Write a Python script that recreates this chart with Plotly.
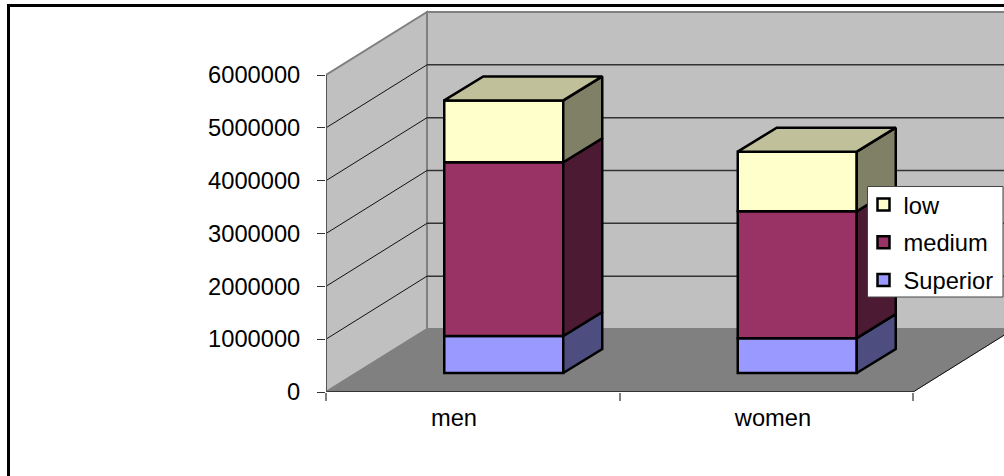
import plotly.graph_objects as go

categories = ["men", "women"]
category_label_positions = [0.436, 1.523]
series_names = ["Superior", "medium", "low"]
superior = [700000, 660000]
medium = [3290000, 2400000]
low = [1170000, 1130000]
series_values = [superior, medium, low]
legend_ranks = [3, 2, 1]
front_colors = ["#9999FF", "#993366", "#FFFFCC"]
side_colors = ["#4D4D80", "#4D1A33", "#808066"]
top_color = "#C0C09A"
y_ticks = [0, 1000000, 2000000, 3000000, 4000000, 5000000, 6000000]

W, H = 1004, 476
X0, Y0 = 326, 392          # pixel of axis origin
CAT_PX = 293.5
UNIT_PX = 317 / 6000000
DX = 101 / CAT_PX          # full depth in x units
DY = 63 / UNIT_PX          # full depth in y units
BAR_W = 119 / CAT_PX
BAR_SHIFT_X = 31 / CAT_PX
BAR_SHIFT_Y = 19 / UNIT_PX
BAR_DX = 39 / CAT_PX
BAR_DY = 24 / UNIT_PX

xmax = (W - X0) / CAT_PX
ytop = (Y0 - 8) / UNIT_PX
FS = 23.7


def poly(pts, fill, line="#808080", width=1):
    d = "M" + "L".join(f"{x},{y}" for x, y in pts) + "Z"
    return dict(type="path", path=d, xref="x", yref="y", fillcolor=fill, layer="below",
                line=dict(color=line, width=width))


def seg(x0, y0, x1, y1, color="#000000", width=1):
    return dict(type="line", x0=x0, y0=y0, x1=x1, y1=y1, xref="x", yref="y", layer="below",
                line=dict(color=color, width=width))


top = 6000000
shapes = [
    poly([(DX, DY), (2 + DX, DY), (2 + DX, top + DY), (DX, top + DY)], "#C0C0C0", "#808080", 2),
    poly([(0, 0), (DX, DY), (DX, top + DY), (0, top)], "#C0C0C0", "#808080", 2),
    poly([(0, 0), (2, 0), (2 + DX, DY), (DX, DY)], "#808080", "#808080", 1),
]
for v in y_ticks[1:-1]:
    shapes.append(seg(0, v, DX, v + DY, "#111111", 1))
    shapes.append(seg(DX, v + DY, 2 + DX, v + DY, "#333333", 1.5))
shapes.append(seg(0, 0, 2, 0, "#333333", 2))
shapes.append(seg(0, 0, 0, top, "#555555", 2))
shapes.append(seg(2, 0, 2 + DX, DY, "#111111", 1))

fig = go.Figure()
for name, vals, col, rank in zip(series_names, series_values, front_colors, legend_ranks):
    bases = []
    for i in range(len(categories)):
        below = sum(s[i] for s in series_values[:series_names.index(name)])
        bases.append(below + BAR_SHIFT_Y)
    fig.add_trace(go.Bar(
        name=name, legendgroup=name, legendrank=rank,
        x=[i + 0.5 + BAR_SHIFT_X for i in range(len(categories))],
        y=vals, base=bases, width=BAR_W,
        marker=dict(color=col, line=dict(color="#000000", width=2.5)),
    ))


def face(pts, fill):
    xs = [p[0] for p in pts] + [pts[0][0]]
    ys = [p[1] for p in pts] + [pts[0][1]]
    fig.add_trace(go.Scatter(x=xs, y=ys, mode="lines", fill="toself", fillcolor=fill,
                             line=dict(color="#000000", width=2.5), showlegend=False,
                             hoverinfo="skip"))


for i in range(len(categories)):
    xr = i + 0.5 + BAR_SHIFT_X + BAR_W / 2
    xl = xr - BAR_W
    cum = BAR_SHIFT_Y
    for s, col in zip(series_values, side_colors):
        y0, y1 = cum, cum + s[i]
        face([(xr, y0), (xr + BAR_DX, y0 + BAR_DY), (xr + BAR_DX, y1 + BAR_DY), (xr, y1)], col)
        cum = y1
    face([(xl, cum), (xr, cum), (xr + BAR_DX, cum + BAR_DY), (xl + BAR_DX, cum + BAR_DY)], top_color)

fig.update_layout(
    width=W, height=H,
    margin=dict(l=0, r=0, t=0, b=0),
    paper_bgcolor="#FFFFFF", plot_bgcolor="rgba(0,0,0,0)",
    barmode="overlay",
    showlegend=True,
    font=dict(family="Liberation Sans, Arial, sans-serif", size=FS, color="#000000"),
    shapes=shapes + [
        dict(type="rect", xref="paper", yref="paper", x0=8.5 / W, x1=1.02, y0=-0.02, y1=1 - 5.5 / H,
             line=dict(color="#000000", width=3), fillcolor="rgba(0,0,0,0)", layer="below"),
        dict(type="rect", xref="paper", yref="paper", x0=867.5 / W, x1=1003 / W,
             y0=1 - 297 / H, y1=1 - 186.5 / H,
             line=dict(color="#444444", width=1), fillcolor="#FFFFFF", layer="above"),
    ],
    xaxis=dict(domain=[X0 / W, 1], range=[0, xmax], tickmode="array", tickvals=[0, 1, 2],
               ticktext=["", "", ""], ticks="outside", ticklen=8, tickcolor="#808080", tickwidth=2,
               showgrid=False, zeroline=False, showline=False, automargin=False),
    xaxis2=dict(domain=[X0 / W, 1], range=[0, xmax], overlaying="x", anchor="y", side="bottom",
                tickmode="array", tickvals=category_label_positions, ticktext=categories, ticks="",
                ticklen=0, showgrid=False, zeroline=False, showline=False, ticklabelstandoff=9,
                automargin=False),
    yaxis=dict(domain=[(H - Y0) / H, 1 - 8 / H], range=[0, ytop], tickmode="array",
               tickvals=y_ticks, ticktext=[str(v) for v in y_ticks], ticks="outside", ticklen=8,
               tickcolor="#333333", showgrid=False, zeroline=False, showline=False,
               ticklabelstandoff=12, automargin=False),
    legend=dict(x=863.5 / W, y=1 - 182.5 / H, xanchor="left", yanchor="top",
                bgcolor="rgba(0,0,0,0)", borderwidth=0, tracegroupgap=4,
                traceorder="grouped", itemclick=False, font=dict(size=FS)),
)
fig.add_trace(go.Scatter(x=category_label_positions, y=[0, 0], xaxis="x2", yaxis="y", mode="markers",
                         marker=dict(opacity=0), showlegend=False, hoverinfo="skip"))
fig.write_html("out.html", config={"displayModeBar": False},
               post_script="document.body.style.margin='0';")
